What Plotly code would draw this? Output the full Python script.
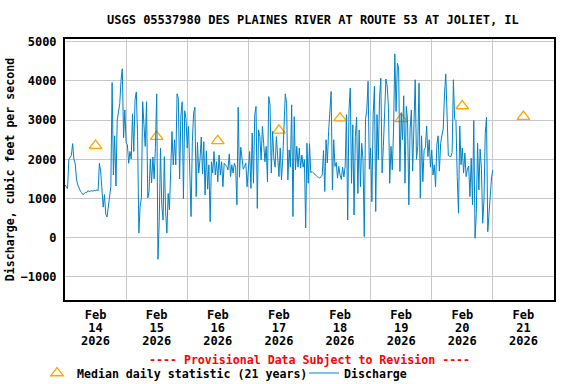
import pandas as pd
import plotly.graph_objects as go

title_text = "USGS 05537980 DES PLAINES RIVER AT ROUTE 53 AT JOLIET, IL"
y_title = "Discharge, cubic feet per second"
note_text = "---- Provisional Data Subject to Revision ----"

# Discharge, 30-minute readings starting 2026-02-14 00:00
day1 = [1350, 1300, 1250, 2000, 2050, 2100, 2400, 2000, 1900, 1500, 1350, 1250,
        1200, 1150, 1100, 1120, 1160, 1150, 1200, 1180, 1200, 1200, 1190, 1210,
        1200, 1220, 1200, 1900, 1700, 1200, 780, 1100, 600, 530, 800, 1050,
        1300, 3960, 1600, 2600, 1320, 3000, 3240, 3420, 4010, 4310, 2550, 3260]
day2 = [2420, 2370, 1900, 2200, 2010, 3160, 2200, 3520, 3720, 2580, 120, 800,
        1020, 3470, 2880, 2330, 3470, 1015, 1180, 2010, 1400, 2060, 1500, 2300,
        3670, -550, 410, 2290, 840, 450, 2070, 670, 120, 1130, 710, 1500,
        2710, 1860, 2500, 1860, 3670, 3560, 1500, 3110, 3470, 1000, 3240, 3050]
day3 = [2290, 2840, 1910, 540, 2460, 3180, 3330, 1050, 2430, 1650, 1990, 2570,
        1630, 2450, 1090, 2215, 1240, 1860, 410, 1940, 1650, 2200, 1600, 1940,
        1430, 2110, 1600, 1940, 1300, 1900, 1860, 1820, 1730, 2140, 1560, 1860,
        1650, 1900, 1800, 840, 3330, 1545, 2310, 2070, 1750, 1820, 1900, 1300]
day4 = [1820, 2200, 1260, 2670, 1390, 3140, 3350, 750, 2750, 2580, 1990, 2840,
        2410, 1940, 2330, 1430, 3600, 3390, 1650, 2710, 2030, 1800, 2580, 2030,
        1560, 2290, 1475, 2030, 3050, 3670, 3430, 1475, 2240, 1800, 3390, 540,
        3090, 1730, 2330, 1800, 2290, 1775, 2110, 1800, 1990, 250, 2410, 1390]
day5 = [2400, 1660, 1690, 1650, 1620, 1580, 1560, 1540, 1520, 1560, 1600, 2225,
        1180, 2500, 1910, 2710, 3365, 3730, 1220, 2500, 1820, 1920, 1520, 1820,
        1600, 1490, 1800, 1550, 1820, 3140, 455, 3260, 3820, 1390, 2880, 580,
        2580, 3075, 1130, 2750, 1300, 2410, 2000, 30, 3025, 3260, 3990, 1750]
day6 = [2290, 920, 3140, 3870, 670, 3140, 1990, 3560, 4070, 1650, 2330, 3140,
        4050, 3870, 3330, 1390, 2330, 1730, 2750, 4690, 3220, 4450, 4330, 1690,
        3190, 2500, 3620, 1390, 3350, 3010, 840, 2770, 3260, 1700, 2620, 4030,
        2000, 2330, 3945, 1010, 2600, 1430, 2240, 2300, 2850, 2070, 2500, 1800]
day7 = [2240, 1600, 1860, 1300, 2370, 2600, 1700, 2410, 2620, 2770, 3640, 4180,
        3180, 2100, 2080, 2070, 2170, 4030, 3025, 2990, 1560, 625, 2850, 1860,
        2290, 1650, 2160, 1560, 1750, 1830, 1050, 2030, 840, 2990, -10, 620,
        2410, 1220, 2260, 1775, 370, 965, 2650, 3075, 155, 710, 1010, 1560, 1730]
discharge = day1 + day2 + day3 + day4 + day5 + day6 + day7
discharge_times = pd.date_range("2026-02-14 00:00", periods=len(discharge), freq="30min")

# Median daily statistic (21 years), plotted at noon of each day
median_dates = pd.date_range("2026-02-14 12:00", periods=8, freq="D")
median_values = [2350, 2580, 2470, 2740, 3050, 3030, 3360, 3090]

tick_dates = median_dates
tick_month = ["Feb"] * 8
tick_day = ["14", "15", "16", "17", "18", "19", "20", "21"]
tick_year = ["2026"] * 8
day_bounds = pd.date_range("2026-02-14 00:00", periods=9, freq="D")
y_ticks = [-1000, 0, 1000, 2000, 3000, 4000, 5000]

FONT = "DejaVu Sans Mono"
BOLD = dict(family=FONT, size=12, color="black", weight="bold")
SMALL = dict(family=FONT, size=11.6, color="black", weight="bold")

fig = go.Figure()
fig.add_trace(go.Scatter(
    x=median_dates, y=median_values, mode="markers",
    name="Median daily statistic (21 years)", legend="legend",
    marker=dict(symbol="triangle-up-open", size=11, color="#FFA500",
                line=dict(width=1.3, color="#FFA500")),
))
fig.add_trace(go.Scatter(
    x=discharge_times, y=discharge, mode="lines", name="Discharge",
    legend="legend2",
    line=dict(color="#0083C8", width=1),
))
# empty helper traces so the 2nd and 3rd rows of date labels get drawn
for ax in ("x2", "x3"):
    fig.add_trace(go.Scatter(x=list(tick_dates), y=[None] * len(tick_dates),
                             xaxis=ax, yaxis="y", mode="lines",
                             showlegend=False, hoverinfo="skip"))

PW = 576 - 65 - 22
PH = 384 - 39 - 84

fig.update_layout(
    width=576, height=384,
    margin=dict(l=65, r=22, t=39, b=84, autoexpand=False),
    paper_bgcolor="white", plot_bgcolor="white",
    font=BOLD,
    title=dict(text=title_text, x=0.507, xref="paper", y=1 - 20 / 384,
               yanchor="middle", xanchor="center", font=BOLD),
    showlegend=True,
    legend=dict(orientation="h", x=(37 - 65) / PW, xanchor="left",
                y=-73 / PH, yanchor="middle", font=SMALL,
                bgcolor="rgba(0,0,0,0)", itemwidth=30),
    legend2=dict(orientation="h", x=(304 - 65) / PW, xanchor="left",
                 y=-73 / PH, yanchor="middle", font=SMALL,
                 bgcolor="rgba(0,0,0,0)", itemwidth=30),
    annotations=[dict(text=note_text, x=0.5, xref="paper", y=-60 / PH, yref="paper",
                      showarrow=False, xanchor="center", yanchor="middle",
                      font=dict(family=FONT, size=11.6, color="red", weight="bold"))],
)

common_x = dict(range=[day_bounds[0], day_bounds[-1]], tickmode="array",
                tickvals=tick_dates, showgrid=False, ticks="", zeroline=False,
                tickfont=BOLD, automargin=False)

fig.update_layout(
    xaxis=dict(**common_x, ticktext=tick_month, ticklabelstandoff=3,
               minor=dict(tickmode="array", tickvals=day_bounds, showgrid=True,
                          gridcolor="#C8C8C8", gridwidth=1, ticks=""),
               showline=True, linecolor="black", linewidth=2, mirror=True),
    xaxis2=dict(**common_x, ticktext=tick_day, ticklabelstandoff=19,
                overlaying="x", anchor="y", side="bottom", showline=False),
    xaxis3=dict(**common_x, ticktext=tick_year, ticklabelstandoff=32,
                overlaying="x", anchor="y", side="bottom", showline=False),
    yaxis=dict(range=[-1587, 5069], tickmode="array", tickvals=y_ticks,
               showgrid=True, gridcolor="#C8C8C8", gridwidth=1, ticks="",
               ticklabelstandoff=4, zeroline=False, tickfont=BOLD, automargin=False,
               title=dict(text=y_title, standoff=3, font=SMALL),
               showline=True, linecolor="black", linewidth=2, mirror=True),
)

fig.write_html("out.html", config={"displayModeBar": False},
               post_script="document.body.style.margin='0';"
                           "document.body.style.padding='0';")
